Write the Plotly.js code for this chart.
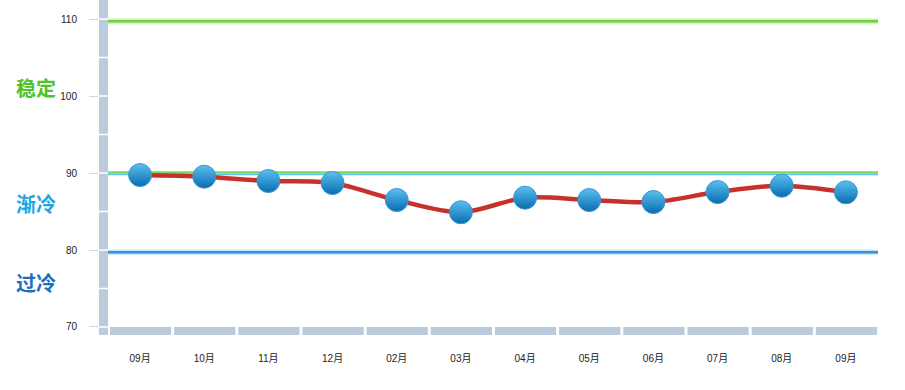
<!DOCTYPE html>
<html>
<head>
<meta charset="utf-8">
<script src="https://cdn.plot.ly/plotly-3.0.1.min.js"></script>
<style>html,body{margin:0;padding:0;background:#fff;}#chart{width:905px;height:390px;}</style>
</head>
<body>
<div id="chart"></div>
<script>
const months = ["09月","10月","11月","12月","02月","03月","04月","05月","06月","07月","08月","09月"];
const values = [89.74, 89.52, 88.96, 88.70, 86.49, 84.9, 86.79, 86.49, 86.23, 87.53, 88.35, 87.49];
const yTicks = [70, 80, 90, 100, 110];
const barLines = [70, 75, 80, 85, 90, 95, 100, 105, 110];
const zoneLabels = ["稳定", "渐冷", "过冷"];
const zoneLabelY = [101.1, 86.0, 75.8];
const zoneColors = ["#4dc42d", "#1ea5e6", "#1a6fc0"];

const xIdx = months.map((m, i) => i);
const barFrac = 9 / 779;

const shapes = [];
shapes.push({type:'rect', xref:'paper', yref:'paper', x0:0, x1:barFrac, y0:0, y1:1,
  fillcolor:'#bccbdb', line:{width:0}, layer:'below'});
xIdx.forEach(i => {
  shapes.push({type:'rect', xref:'x', yref:'paper', x0:i-0.5+0.03, x1:i+0.5-0.015, y0:0, y1:8/335,
    fillcolor:'#bccbdb', line:{width:0}, layer:'below'});
});
barLines.forEach(v => {
  shapes.push({type:'line', xref:'paper', yref:'y', x0:0, x1:barFrac, y0:v, y1:v,
    line:{color:'#ffffff', width:1.5}});
});
function hline(v, color, w){ shapes.push({type:'line', xref:'paper', yref:'y', x0:barFrac, x1:1, y0:v, y1:v, line:{color:color, width:w}, layer:'below'}); }
hline(109.7, '#d4f3bf', 6);
hline(109.7, '#6ccf3f', 2.5);
hline(90.05, '#c8efb4', 3);
hline(90.05, '#7ad55a', 2);
hline(89.82, '#5cc6ee', 1.5);
hline(79.7, '#bfe3f8', 5);
hline(79.7, '#3a8fd8', 2.5);

const annotations = zoneLabels.map((t, i) => ({
  text: '<b>' + t + '</b>', xref:'paper', yref:'y', x: (36 - 99) / 779, y: zoneLabelY[i],
  xanchor:'center', yanchor:'middle', showarrow:false,
  font:{size:20, color: zoneColors[i], family:'"Noto Sans CJK SC", sans-serif'}
}));

const traces = [
  {x:xIdx, y:values, type:'scatter', mode:'lines', line:{color:'#c8302c', width:4.5, shape:'spline', smoothing:0.9}, hoverinfo:'skip'},
  {x:xIdx, y:values, type:'scatter', mode:'markers',
    marker:{size:23, color:'#5cc0f0', gradient:{type:'vertical', color:'#086cb0'}, line:{color:'#3a98d2', width:1}}}
];

const layout = {
  width:905, height:390,
  margin:{l:99, r:27, t:0, b:55},
  showlegend:false,
  plot_bgcolor:'#ffffff', paper_bgcolor:'#ffffff',
  xaxis:{range:[-0.640, 11.5], tickvals:xIdx, ticktext:months, showgrid:false, zeroline:false, showline:false,
    ticks:'', tickfont:{size:10, color:'#222', family:'"Liberation Sans", "Noto Sans CJK SC", sans-serif'}, ticklabelstandoff:16, fixedrange:true},
  yaxis:{range:[68.96, 112.47], tickvals:yTicks, ticktext:yTicks.map(String), showgrid:false, zeroline:false, showline:false,
    ticks:'outside', ticklen:9, tickcolor:'#cfd6de', tickwidth:1,
    tickfont:{size:10, color:'#222', family:'"Liberation Sans", sans-serif'}, ticklabelstandoff:10, fixedrange:true},
  shapes:shapes,
  annotations:annotations
};
Plotly.newPlot('chart', traces, layout, {displayModeBar:false, staticPlot:true});
</script>
</body>
</html>
